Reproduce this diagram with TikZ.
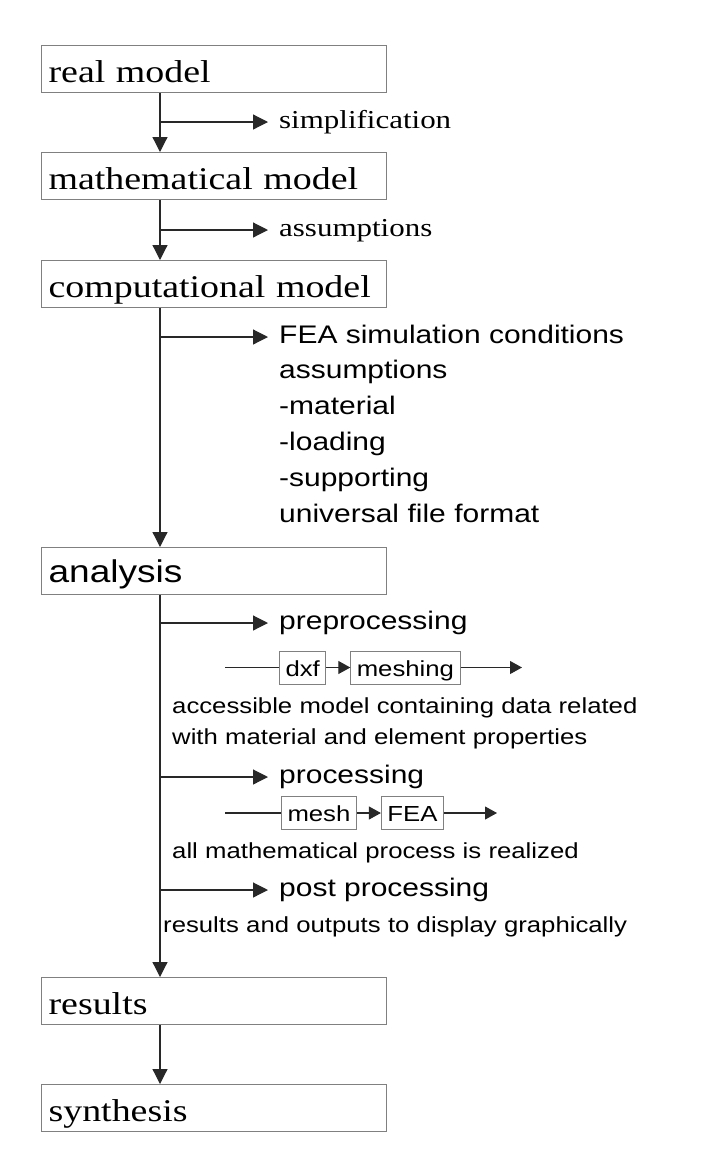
\documentclass[tikz,border=0pt]{standalone}
\usepackage{fontspec}
\setmainfont{Liberation Serif}[FakeStretch=1.2]
\setsansfont{Liberation Sans}[FakeStretch=1.18]
\usepackage{xcolor}
\usepackage{tikz}
\usetikzlibrary{arrows.meta,positioning}
\definecolor{boxline}{RGB}{128,128,128}
\definecolor{flowline}{RGB}{40,40,40}
\tikzset{
  stagebox/.style={
    rectangle,
    draw=boxline,
    line width=1.1pt,
    minimum width=345pt,
    minimum height=47pt,
    text width=331pt,
    inner xsep=7pt,
    inner ysep=0pt,
    align=left,
    font=\fontsize{31.6}{38}\selectfont,
    text height=29pt,
    text depth=2pt
  },
  stagebox2/.style={
    stagebox,
    font=\sffamily\fontsize{31.4}{37}\selectfont,
    text height=26pt,
    text depth=2.5pt
  },
  sidelabel/.style={
    anchor=west,
    inner xsep=11pt,
    inner ysep=0pt,
    font=\fontsize{25.8}{30}\selectfont,
    text height=18pt,
    text depth=6pt
  },
  sidelabel2/.style={
    sidelabel,
    font=\sffamily\fontsize{25.4}{36}\selectfont
  },
  remark/.style={
    anchor=base west,
    inner sep=0pt,
    align=left,
    text width=480pt,
    font=\sffamily\fontsize{21.8}{31}\selectfont
  },
  smallbox/.style={
    rectangle,
    draw=boxline,
    line width=1pt,
    minimum height=33pt,
    inner xsep=6pt,
    inner ysep=0pt,
    font=\sffamily\fontsize{21.8}{26}\selectfont,
    text height=17pt,
    text depth=0pt
  },
  flow/.style={-{Triangle[length=15pt,width=15pt]}, line width=1.2pt, flowline},
  flowsmall/.style={-{Triangle[length=12pt,width=13pt]}, line width=1.1pt, flowline},
  plain/.style={line width=1.1pt, flowline}
}
\begin{document}
\begin{tikzpicture}[x=1pt,y=-1pt]
\useasboundingbox (0,0) rectangle (708,1160);
\coordinate (spine) at (160,0);
\node[stagebox, anchor=north west] (real) at (41,45) {real model};
\node[stagebox, anchor=north west] (math) at (41,152) {mathematical model};
\node[stagebox, anchor=north west] (comp) at (41,260) {computational model};
\node[stagebox2, anchor=north west] (ana) at (41,547) {analysis};
\node[stagebox, anchor=north west] (res) at (41,977) {results};
\node[stagebox, anchor=north west] (syn) at (41,1084) {synthesis};

\node[sidelabel] (simp) at (268,122) {simplification};
\node[sidelabel] (assum) at (268,230) {assumptions};
\node[sidelabel2] (fea) at (268,337) {FEA simulation conditions};
\node[remark, font=\sffamily\fontsize{25.4}{36}\selectfont] (feanote) at (279,378)
  {assumptions\\-material\\-loading\\-supporting\\universal file format};

\node[sidelabel2] (pre) at (268,623) {preprocessing};
\node[smallbox, anchor=west] (dxf) at (279,667.5) {dxf};
\node[smallbox, right=24pt of dxf] (meshing) {meshing};
\coordinate (prein) at (225,667.5);
\coordinate (preout) at (522,667.5);
\node[remark] (prenote) at (172,713)
  {accessible model containing data related\\with material and element properties};

\node[sidelabel2] (proc) at (268,777) {processing};
\node[smallbox, anchor=west] (mesh) at (281,813) {mesh};
\node[smallbox, right=24pt of mesh] (fe) {FEA};
\coordinate (procin) at (225,813);
\coordinate (procout) at (497,813);
\node[remark] (procnote) at (172,858) {all mathematical process is realized};

\node[sidelabel2] (post) at (268,890) {post processing};
\node[remark] (postnote) at (163,932) {results and outputs to display graphically};

\draw[flow] (real.south -| spine) -- (math.north -| spine);
\draw[flow] (math.south -| spine) -- (comp.north -| spine);
\draw[flow] (comp.south -| spine) -- (ana.north -| spine);
\draw[flow] (ana.south -| spine) -- (res.north -| spine);
\draw[flow] (res.south -| spine) -- (syn.north -| spine);

\draw[flow] (simp.west -| spine) -- (simp.west);
\draw[flow] (assum.west -| spine) -- (assum.west);
\draw[flow] (fea.west -| spine) -- (fea.west);
\draw[flow] (pre.west -| spine) -- (pre.west);
\draw[flow] (proc.west -| spine) -- (proc.west);
\draw[flow] (post.west -| spine) -- (post.west);

\draw[plain] (prein) -- (dxf.west);
\draw[flowsmall] (dxf.east) -- (meshing.west);
\draw[flowsmall] (meshing.east) -- (preout);
\draw[plain] (procin) -- (mesh.west);
\draw[flowsmall] (mesh.east) -- (fe.west);
\draw[flowsmall] (fe.east) -- (procout);
\end{tikzpicture}
\end{document}
